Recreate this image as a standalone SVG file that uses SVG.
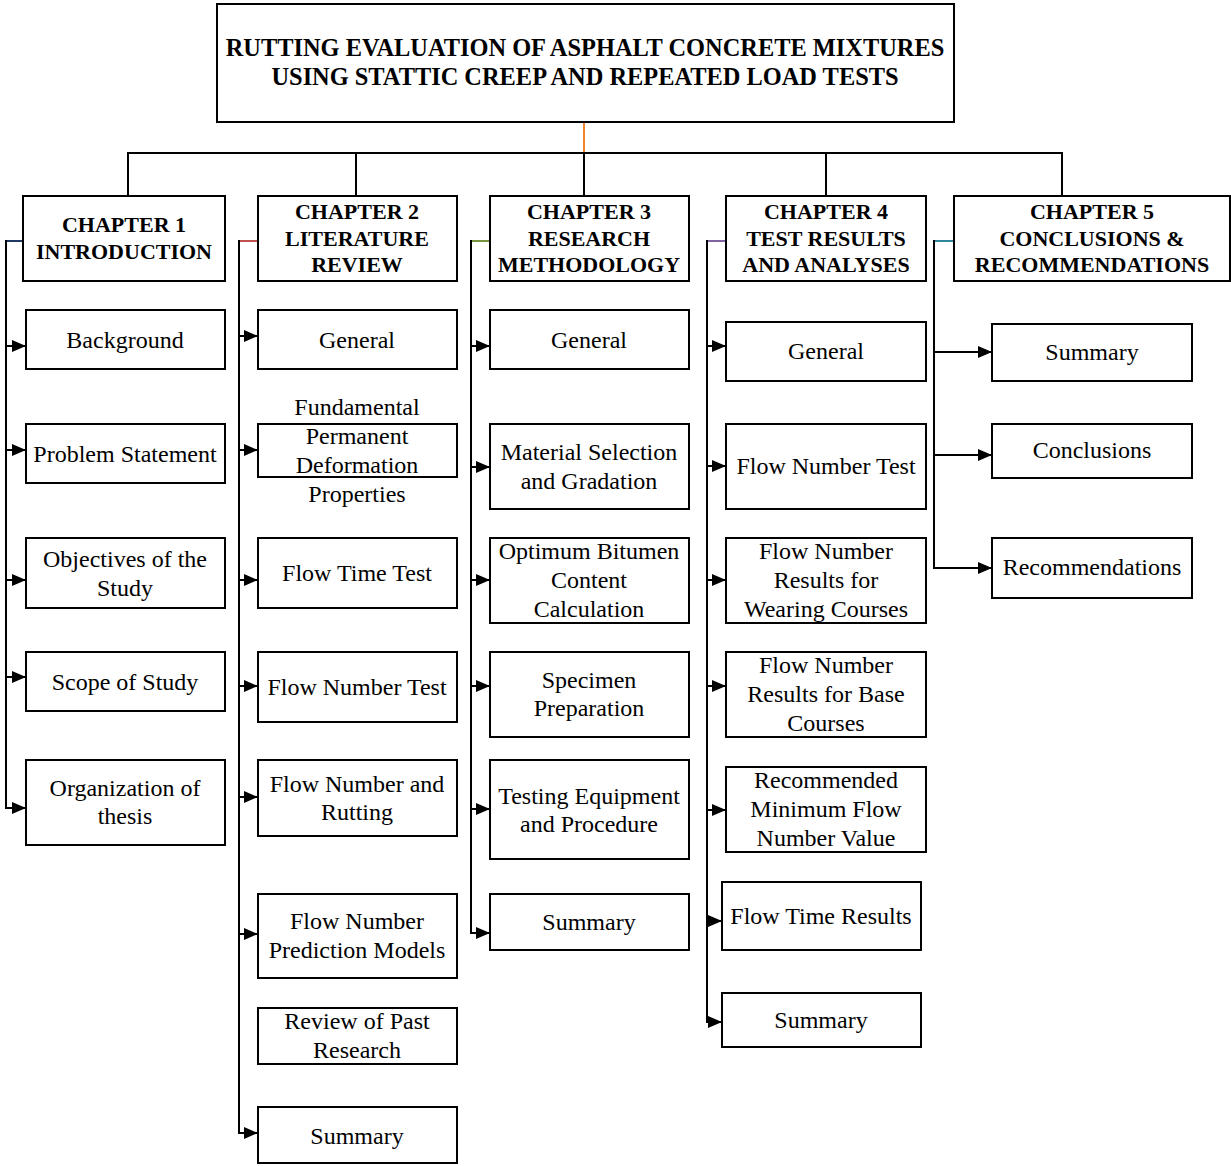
<svg xmlns="http://www.w3.org/2000/svg" width="1231" height="1166" viewBox="0 0 1231 1166">
<style>
.box{fill:#fff;stroke:#000;stroke-width:2}
text{font-family:'Liberation Serif','Times New Roman',Times,Tinos,'DejaVu Serif',serif;text-anchor:middle;fill:#000}
.t{font-size:24px}
.h{font-size:22px;font-weight:bold}
.ttl{font-size:24.4px;font-weight:bold}
.ln{fill:none;stroke:#000;stroke-width:2}
.ar{fill:none;stroke:#000;stroke-width:2;marker-end:url(#arr)}
</style>
<defs>
<marker id="arr" markerUnits="userSpaceOnUse" markerWidth="14" markerHeight="12" refX="14" refY="6" orient="auto">
<path d="M0,0 L14,6 L0,12 z" fill="#000"/>
</marker>
</defs>
<rect width="1231" height="1166" fill="#fff"/>
<g id="connectors">
<line x1="584" y1="122" x2="584" y2="153" stroke="#f0852d" stroke-width="2"/>
<path class="ln" d="M128,196 V153 H1062 V196"/>
<line class="ln" x1="356" y1="153" x2="356" y2="196"/>
<line class="ln" x1="584" y1="153" x2="584" y2="196"/>
<line class="ln" x1="826" y1="153" x2="826" y2="196"/>
<line x1="6" y1="241" x2="23" y2="241" stroke="#1f3864" stroke-width="2"/>
<line x1="239" y1="241" x2="258" y2="241" stroke="#c0504d" stroke-width="2"/>
<line x1="471" y1="241" x2="490" y2="241" stroke="#77933c" stroke-width="2"/>
<line x1="707" y1="241" x2="726" y2="241" stroke="#8064a2" stroke-width="2"/>
<line x1="934" y1="241" x2="954" y2="241" stroke="#31859c" stroke-width="2"/>
<line class="ln" x1="6" y1="240" x2="6" y2="809"/>
<line class="ln" x1="239" y1="240" x2="239" y2="1134"/>
<line class="ln" x1="471" y1="240" x2="471" y2="934"/>
<line class="ln" x1="707" y1="240" x2="707" y2="1023"/>
<line class="ln" x1="934" y1="240" x2="934" y2="569"/>
<line class="ar" x1="5" y1="346" x2="26" y2="346"/>
<line class="ar" x1="5" y1="450" x2="26" y2="450"/>
<line class="ar" x1="5" y1="580" x2="26" y2="580"/>
<line class="ar" x1="5" y1="677" x2="26" y2="677"/>
<line class="ar" x1="5" y1="808" x2="26" y2="808"/>
<line class="ar" x1="238" y1="336" x2="258" y2="336"/>
<line class="ar" x1="238" y1="450" x2="258" y2="450"/>
<line class="ar" x1="238" y1="580" x2="258" y2="580"/>
<line class="ar" x1="238" y1="686" x2="258" y2="686"/>
<line class="ar" x1="238" y1="797" x2="258" y2="797"/>
<line class="ar" x1="238" y1="934" x2="258" y2="934"/>
<line class="ar" x1="238" y1="1133" x2="258" y2="1133"/>
<line class="ar" x1="470" y1="346" x2="490" y2="346"/>
<line class="ar" x1="470" y1="467" x2="490" y2="467"/>
<line class="ar" x1="470" y1="580" x2="490" y2="580"/>
<line class="ar" x1="470" y1="686" x2="490" y2="686"/>
<line class="ar" x1="470" y1="809" x2="490" y2="809"/>
<line class="ar" x1="470" y1="933" x2="490" y2="933"/>
<line class="ar" x1="706" y1="346" x2="726" y2="346"/>
<line class="ar" x1="706" y1="466" x2="726" y2="466"/>
<line class="ar" x1="706" y1="580" x2="726" y2="580"/>
<line class="ar" x1="706" y1="686" x2="726" y2="686"/>
<line class="ar" x1="706" y1="810" x2="726" y2="810"/>
<line class="ar" x1="706" y1="921" x2="722" y2="921"/>
<line class="ar" x1="706" y1="1022" x2="722" y2="1022"/>
<line class="ar" x1="934" y1="352" x2="992" y2="352"/>
<line class="ar" x1="934" y1="455" x2="992" y2="455"/>
<line class="ar" x1="934" y1="568" x2="992" y2="568"/>
</g>
<g id="title"><rect class="box" x="217" y="4" width="737" height="118"/>
<text class="ttl" x="585" y="56">RUTTING EVALUATION OF ASPHALT CONCRETE MIXTURES</text>
<text class="ttl" x="585" y="85">USING STATTIC CREEP AND REPEATED LOAD TESTS</text></g>
<g id="ch1"><rect class="box" x="23" y="196" width="202" height="85"/>
<text class="h" x="124" y="232">CHAPTER 1</text><text class="h" x="124" y="259">INTRODUCTION</text></g>
<g id="ch2"><rect class="box" x="258" y="196" width="199" height="85"/>
<text class="h" x="357" y="219">CHAPTER 2</text><text class="h" x="357" y="246">LITERATURE</text><text class="h" x="357" y="272">REVIEW</text></g>
<g id="ch3"><rect class="box" x="490" y="196" width="199" height="85"/>
<text class="h" x="589" y="219">CHAPTER 3</text><text class="h" x="589" y="246">RESEARCH</text><text class="h" x="589" y="272">METHODOLOGY</text></g>
<g id="ch4"><rect class="box" x="726" y="196" width="200" height="85"/>
<text class="h" x="826" y="219">CHAPTER 4</text><text class="h" x="826" y="246">TEST RESULTS</text><text class="h" x="826" y="272">AND ANALYSES</text></g>
<g id="ch5"><rect class="box" x="954" y="196" width="276" height="85"/>
<text class="h" x="1092" y="219">CHAPTER 5</text><text class="h" x="1092" y="246">CONCLUSIONS &amp;</text><text class="h" x="1092" y="272">RECOMMENDATIONS</text></g>

<g id="c1-1"><rect class="box" x="26" y="310" width="199" height="59"/><text class="t" x="125" y="348">Background</text></g>
<g id="c1-2"><rect class="box" x="26" y="424" width="199" height="59"/><text class="t" x="125" y="462">Problem Statement</text></g>
<g id="c1-3"><rect class="box" x="26" y="538" width="199" height="70"/><text class="t" x="125" y="567">Objectives of the</text><text class="t" x="125" y="596">Study</text></g>
<g id="c1-4"><rect class="box" x="26" y="652" width="199" height="59"/><text class="t" x="125" y="690">Scope of Study</text></g>
<g id="c1-5"><rect class="box" x="26" y="760" width="199" height="85"/><text class="t" x="125" y="796">Organization of</text><text class="t" x="125" y="824">thesis</text></g>

<g id="c2-1"><rect class="box" x="258" y="310" width="199" height="59"/><text class="t" x="357" y="348">General</text></g>
<g id="c2-2"><rect class="box" x="258" y="424" width="199" height="53"/><text class="t" x="357" y="415">Fundamental</text><text class="t" x="357" y="444">Permanent</text><text class="t" x="357" y="473">Deformation</text><text class="t" x="357" y="502">Properties</text></g>
<g id="c2-3"><rect class="box" x="258" y="538" width="199" height="70"/><text class="t" x="357" y="581">Flow Time Test</text></g>
<g id="c2-4"><rect class="box" x="258" y="652" width="199" height="70"/><text class="t" x="357" y="695">Flow Number Test</text></g>
<g id="c2-5"><rect class="box" x="258" y="760" width="199" height="76"/><text class="t" x="357" y="792">Flow Number and</text><text class="t" x="357" y="820">Rutting</text></g>
<g id="c2-6"><rect class="box" x="258" y="894" width="199" height="84"/><text class="t" x="357" y="929">Flow Number</text><text class="t" x="357" y="958">Prediction Models</text></g>
<g id="c2-7"><rect class="box" x="258" y="1008" width="199" height="56"/><text class="t" x="357" y="1029">Review of Past</text><text class="t" x="357" y="1058">Research</text></g>
<g id="c2-8"><rect class="box" x="258" y="1107" width="199" height="56"/><text class="t" x="357" y="1144">Summary</text></g>

<g id="c3-1"><rect class="box" x="490" y="310" width="199" height="59"/><text class="t" x="589" y="348">General</text></g>
<g id="c3-2"><rect class="box" x="490" y="424" width="199" height="85"/><text class="t" x="589" y="460">Material Selection</text><text class="t" x="589" y="489">and Gradation</text></g>
<g id="c3-3"><rect class="box" x="490" y="538" width="199" height="85"/><text class="t" x="589" y="559">Optimum Bitumen</text><text class="t" x="589" y="588">Content</text><text class="t" x="589" y="617">Calculation</text></g>
<g id="c3-4"><rect class="box" x="490" y="652" width="199" height="85"/><text class="t" x="589" y="688">Specimen</text><text class="t" x="589" y="716">Preparation</text></g>
<g id="c3-5"><rect class="box" x="490" y="760" width="199" height="99"/><text class="t" x="589" y="804">Testing Equipment</text><text class="t" x="589" y="832">and Procedure</text></g>
<g id="c3-6"><rect class="box" x="490" y="894" width="199" height="56"/><text class="t" x="589" y="930">Summary</text></g>

<g id="c4-1"><rect class="box" x="726" y="322" width="200" height="59"/><text class="t" x="826" y="359">General</text></g>
<g id="c4-2"><rect class="box" x="726" y="424" width="200" height="85"/><text class="t" x="826" y="474">Flow Number Test</text></g>
<g id="c4-3"><rect class="box" x="726" y="538" width="200" height="85"/><text class="t" x="826" y="559">Flow Number</text><text class="t" x="826" y="588">Results for</text><text class="t" x="826" y="617">Wearing Courses</text></g>
<g id="c4-4"><rect class="box" x="726" y="652" width="200" height="85"/><text class="t" x="826" y="673">Flow Number</text><text class="t" x="826" y="702">Results for Base</text><text class="t" x="826" y="731">Courses</text></g>
<g id="c4-5"><rect class="box" x="726" y="767" width="200" height="85"/><text class="t" x="826" y="788">Recommended</text><text class="t" x="826" y="817">Minimum Flow</text><text class="t" x="826" y="846">Number Value</text></g>
<g id="c4-6"><rect class="box" x="722" y="882" width="199" height="68"/><text class="t" x="821" y="924">Flow Time Results</text></g>
<g id="c4-7"><rect class="box" x="722" y="993" width="199" height="54"/><text class="t" x="821" y="1028">Summary</text></g>

<g id="c5-1"><rect class="box" x="992" y="324" width="200" height="57"/><text class="t" x="1092" y="360">Summary</text></g>
<g id="c5-2"><rect class="box" x="992" y="424" width="200" height="54"/><text class="t" x="1092" y="458">Conclusions</text></g>
<g id="c5-3"><rect class="box" x="992" y="538" width="200" height="60"/><text class="t" x="1092" y="575">Recommendations</text></g>
</svg>
